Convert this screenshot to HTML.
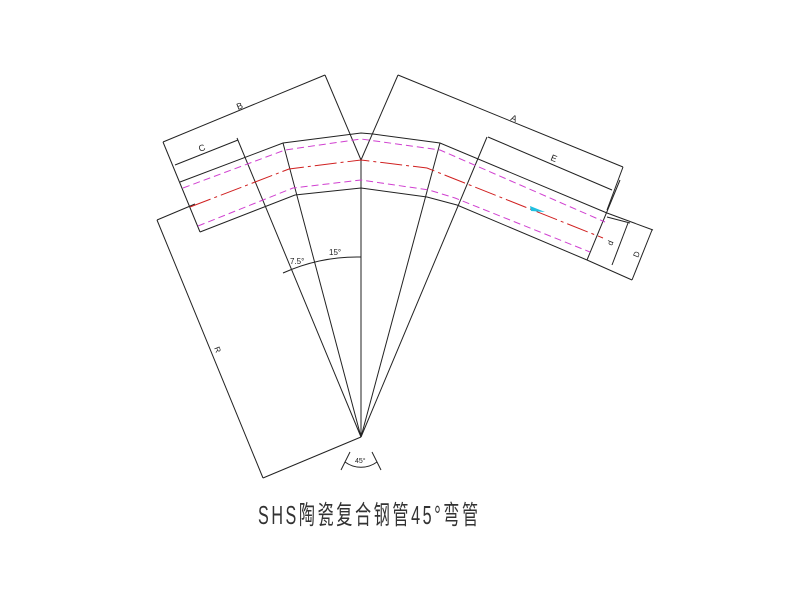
<!DOCTYPE html>
<html><head><meta charset="utf-8"><style>
html,body{margin:0;padding:0;background:#fff;}
svg{display:block;}
</style></head><body>
<svg width="800" height="602" viewBox="0 0 800 602" xmlns="http://www.w3.org/2000/svg">
<rect width="800" height="602" fill="#fff"/>
<g fill="none" stroke="#222" stroke-width="1">
<polyline points="180,182 283,143 361,133 373,134 440,143 607,213"/>
<polyline points="200,232 295,195 361,188 427,197 457,205 587,260"/>
<line x1="163" y1="142" x2="200" y2="232"/>
<line x1="620" y1="180" x2="587" y2="260"/>
<line x1="361" y1="160" x2="361" y2="437"/>
<line x1="237" y1="138" x2="361" y2="437"/>
<line x1="283" y1="143" x2="361" y2="437"/>
<line x1="440" y1="143" x2="361" y2="437"/>
<line x1="487" y1="137" x2="361" y2="437"/>
<line x1="163" y1="142" x2="325" y2="75"/>
<line x1="325" y1="75" x2="361" y2="160"/>
<line x1="175" y1="165" x2="238" y2="140"/>
<line x1="398" y1="75" x2="623" y2="167"/>
<line x1="398" y1="75" x2="361" y2="160"/>
<line x1="623" y1="167" x2="607" y2="210"/>
<line x1="488" y1="137" x2="612" y2="190"/>
<line x1="607" y1="213" x2="653" y2="230"/>
<line x1="587" y1="260" x2="632" y2="280"/>
<line x1="652" y1="230" x2="632" y2="280"/>
<line x1="607" y1="217" x2="630" y2="223"/>
<line x1="628" y1="223" x2="612" y2="265"/>
<line x1="157" y1="220" x2="195" y2="204"/>
<line x1="157" y1="220" x2="263" y2="478"/>
<line x1="263" y1="478" x2="361" y2="437"/>
<path d="M361,257 A180,180 0 0 0 283,273"/>
<path d="M345,462 A27,27 0 0 0 377,462"/>
<line x1="350" y1="452" x2="341" y2="470"/>
<line x1="372" y1="452" x2="381" y2="470"/>
</g>
<g fill="none" stroke="#d040d0" stroke-width="1" stroke-dasharray="7,4">
<polyline points="183,188 285,150 361,139 440,150 605,222"/>
<polyline points="198,226 293,188 361,180 429,190 455,198 590,252"/>
</g>
<polyline fill="none" stroke="#d02020" stroke-width="1" stroke-dasharray="22,4,3,4" points="190,207 289,169 361,160 427,168 603,238"/>
<polygon points="530,206 545,212 531,211" fill="#20c0e0"/>
<g font-family="Liberation Sans, sans-serif" font-size="9" fill="#222">
<text x="238" y="110" transform="rotate(-22 238 110)">B</text>
<text x="200" y="152" transform="rotate(-22 200 152)">C</text>
<text x="510" y="120" transform="rotate(22 510 120)">A</text>
<text x="550" y="160" transform="rotate(22 550 160)">E</text>
<text x="290" y="264" font-size="8">7.5°</text>
<text x="329" y="255" font-size="8">15°</text>
<text x="355" y="463" font-size="7">45°</text>
<text x="214" y="348" transform="rotate(68 214 348)" font-size="8">R</text>
<text x="612" y="246" transform="rotate(-68 612 246)" font-size="8">d</text>
<text x="638" y="258" transform="rotate(-68 638 258)" font-size="8">D</text>
</g>
<text x="258" y="524" font-family="Liberation Sans, 'Noto Sans CJK SC', sans-serif" font-size="26" fill="#333" transform="translate(258 0) scale(0.62 1) translate(-258 0)" textLength="355">SHS陶瓷复合钢管45°弯管</text>
</svg>
</body></html>
